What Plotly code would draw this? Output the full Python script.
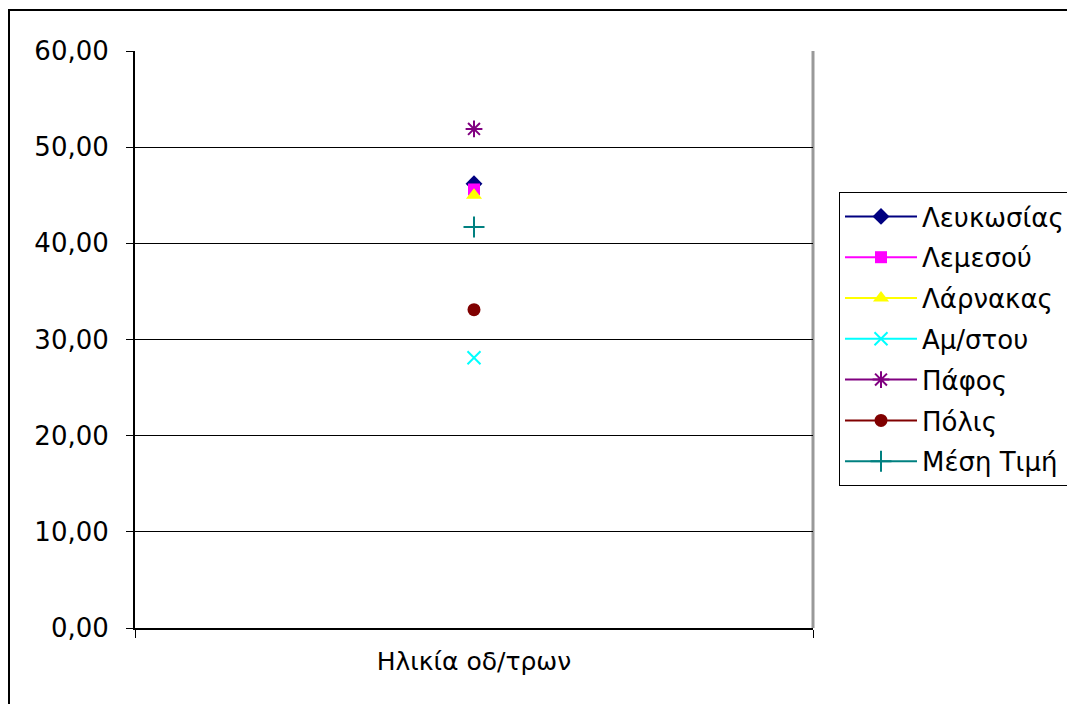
import plotly.graph_objects as go

categories = ["Ηλικία οδ/τρων"]
series_names = ["Λευκωσίας", "Λεμεσού", "Λάρνακας", "Αμ/στου", "Πάφος", "Πόλις", "Μέση Τιμή"]
series_values = [46.2, 45.6, 45.0, 28.1, 51.9, 33.1, 41.7]
tick_values = [0, 10, 20, 30, 40, 50, 60]

styles = [
    dict(color="#000080", symbol="diamond", size=13, line=dict(width=0)),
    dict(color="#FF00FF", symbol="square", size=12, line=dict(width=0)),
    dict(color="#FFFF00", symbol="triangle-up", size=14, line=dict(width=0)),
    dict(color="#00FFFF", symbol="x-thin-open", size=13, line=dict(width=2, color="#00FFFF")),
    dict(color="#800080", symbol="asterisk-open", size=14, line=dict(width=2, color="#800080")),
    dict(color="#800000", symbol="circle", size=13, line=dict(width=0)),
    dict(color="#008080", symbol="cross-thin-open", size=15, line=dict(width=2, color="#008080")),
]

fig = go.Figure()
for i, (name, val) in enumerate(zip(series_names, series_values)):
    st = styles[i]
    fig.add_trace(go.Scatter(
        x=categories, y=[val], name=name, mode="lines+markers",
        legendgroup=name,
        line=dict(color=st["color"], width=2),
        marker=dict(symbol=st["symbol"], size=st["size"], color=st["color"], line=st["line"]),
    ))

FONT = "DejaVu Sans, Arial, sans-serif"
OFF = 8  # page body margin
W, H = 1075, 704
L = 135 - OFF
T = 51 - OFF
R = W - (813 - OFF)
B = H - (628 - OFF)
pw, ph = W - L - R, H - T - B

def px_x(p):
    return (p - OFF - L) / pw

def px_y(p):
    return (H - B - (p - OFF)) / ph

fig.update_layout(
    width=W, height=H,
    margin=dict(l=L, r=R, t=T, b=B, autoexpand=False),
    paper_bgcolor="white", plot_bgcolor="white",
    separators=",.",
    font=dict(family=FONT, size=26, color="black"),
    showlegend=True,
    legend=dict(
        x=px_x(839), y=px_y(192), xanchor="left", yanchor="top",
        bordercolor="black", borderwidth=1, bgcolor="white",
        font=dict(family=FONT, size=26, color="black"),
        tracegroupgap=4, itemwidth=72,
    ),
    xaxis=dict(
        type="category", tickson="boundaries", ticks="outside", ticklen=8,
        tickcolor="black", showline=True, linecolor="black", linewidth=2,
        showgrid=False, range=[-0.5, 0.5], ticklabelstandoff=10,
        tickfont=dict(family=FONT, size=25, color="black"),
    ),
    yaxis=dict(
        range=[0, 60], tickvals=tick_values, tickformat=".2f",
        ticks="outside", ticklen=7, tickcolor="black",
        showline=True, linecolor="black", linewidth=2, ticklabelstandoff=12,
        showgrid=True, gridcolor="black", gridwidth=1, zeroline=False,
        tickfont=dict(family=FONT, size=26, color="black"),
    ),
    shapes=[
        dict(type="rect", xref="paper", yref="paper",
             x0=px_x(9), x1=px_x(1100), y0=px_y(730), y1=px_y(10),
             line=dict(color="black", width=2), fillcolor="rgba(0,0,0,0)", layer="below"),
        dict(type="line", xref="paper", yref="paper",
             x0=1, x1=1, y0=0, y1=1,
             line=dict(color="#999999", width=3), layer="below"),
    ],
)

fig.write_html("out.html")
